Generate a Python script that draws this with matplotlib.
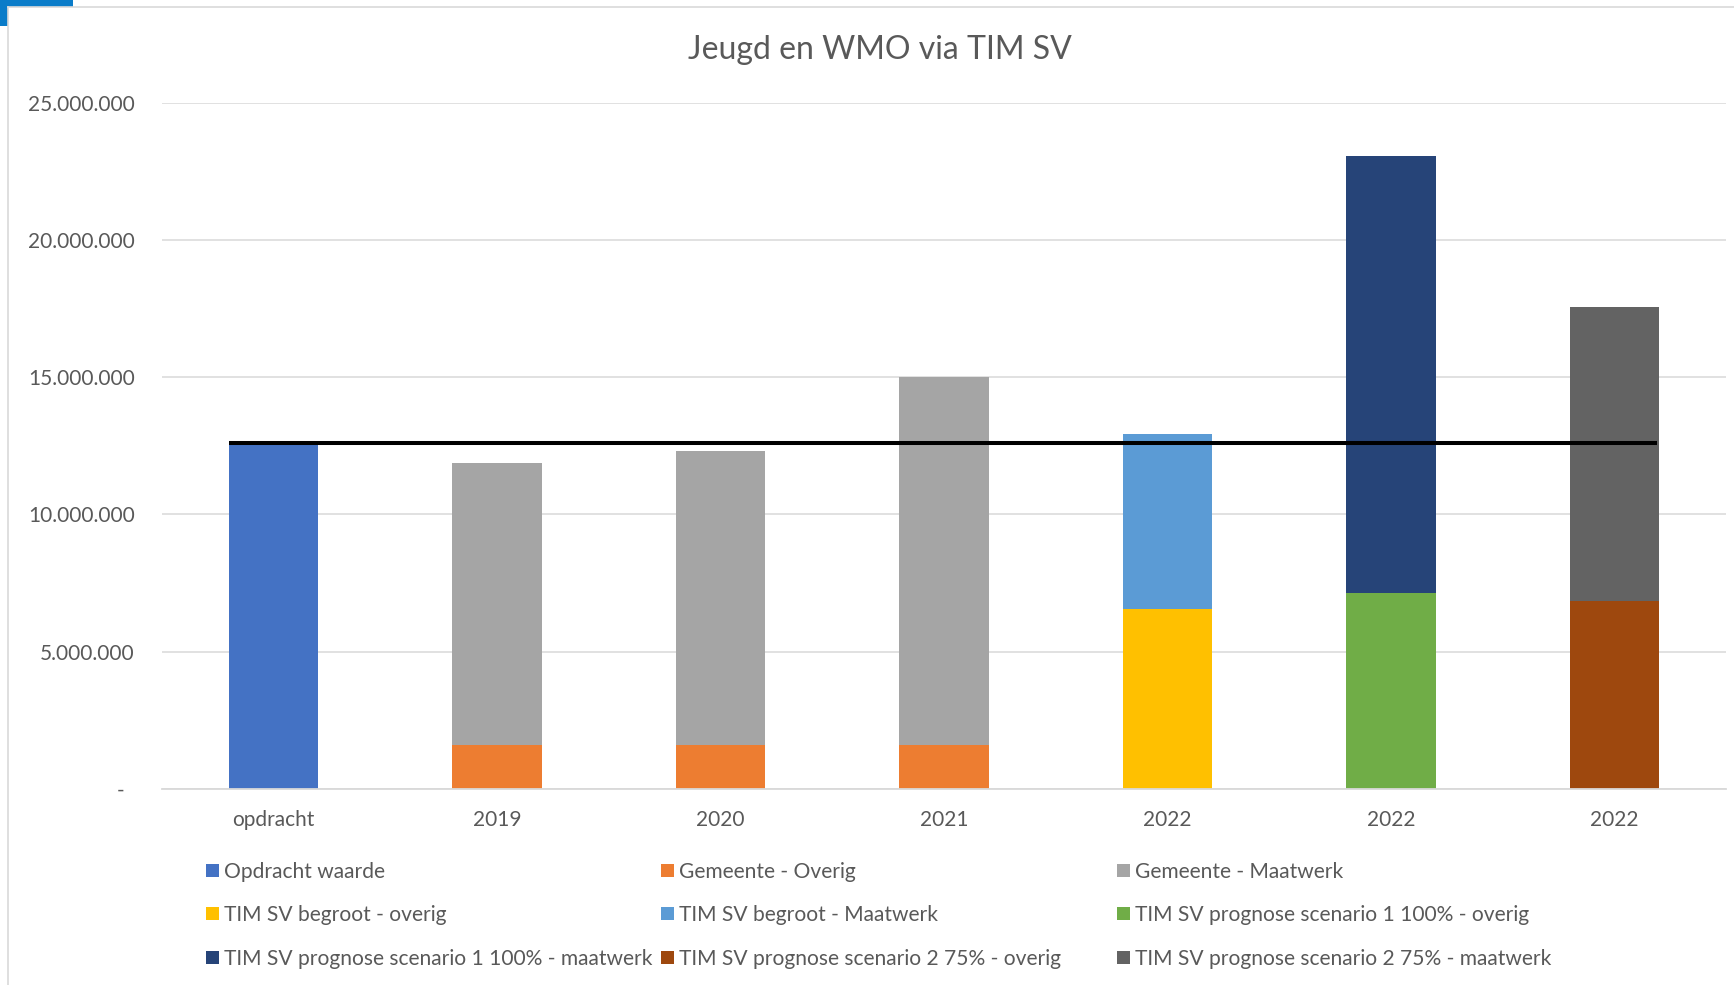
import matplotlib
matplotlib.use("Agg")
import matplotlib.pyplot as plt
from matplotlib.patches import Rectangle
from matplotlib.lines import Line2D
from matplotlib.ticker import FuncFormatter
import numpy as np

categories = ["opdracht", "2019", "2020", "2021", "2022", "2022", "2022"]

opdracht_waarde = [12_600_000, 0, 0, 0, 0, 0, 0]
gemeente_overig = [0, 1_600_000, 1_600_000, 1_600_000, 0, 0, 0]
gemeente_maatwerk = [0, 10_260_000, 10_700_000, 13_400_000, 0, 0, 0]
tim_begroot_overig = [0, 0, 0, 0, 6_550_000, 0, 0]
tim_begroot_maatwerk = [0, 0, 0, 0, 6_380_000, 0, 0]
scen1_overig = [0, 0, 0, 0, 0, 7_130_000, 0]
scen1_maatwerk = [0, 0, 0, 0, 0, 15_930_000, 0]
scen2_overig = [0, 0, 0, 0, 0, 0, 6_830_000]
scen2_maatwerk = [0, 0, 0, 0, 0, 0, 10_710_000]

opdracht_lijn = 12_600_000

series = [
    ("Opdracht waarde", opdracht_waarde, "#4472C4"),
    ("Gemeente - Overig", gemeente_overig, "#ED7D31"),
    ("Gemeente - Maatwerk", gemeente_maatwerk, "#A5A5A5"),
    ("TIM SV begroot - overig", tim_begroot_overig, "#FFC000"),
    ("TIM SV begroot - Maatwerk", tim_begroot_maatwerk, "#5B9BD5"),
    ("TIM SV prognose scenario 1 100% - overig", scen1_overig, "#70AD47"),
    ("TIM SV prognose scenario 1 100% - maatwerk", scen1_maatwerk, "#264478"),
    ("TIM SV prognose scenario 2 75% - overig", scen2_overig, "#9E480E"),
    ("TIM SV prognose scenario 2 75% - maatwerk", scen2_maatwerk, "#636363"),
]

W, H = 1734, 985
TXT = "#595959"
GRID = "#D9D9D9"
plt.rcParams["font.family"] = ["Lato", "DejaVu Sans"]


def fx(px):
    return px / W


def fy(py):
    return 1 - py / H


fig = plt.figure(figsize=(W / 100, H / 100), dpi=100)
ax = fig.add_axes([fx(162), fy(788.7), fx(1726) - fx(162), fy(102.7) - fy(788.7)])

x = np.arange(len(categories))
bottom = np.zeros(len(categories))
for name, vals, color in series:
    vals = np.array(vals, dtype=float)
    ax.bar(x, vals, width=0.4, bottom=bottom, color=color, label=name, zorder=2)
    bottom += vals

ax.plot([-0.2, len(categories) - 0.81], [opdracht_lijn, opdracht_lijn],
        color="black", lw=2.9, zorder=3, solid_capstyle="butt")

ax.set_xlim(-0.5, len(categories) - 0.5)
ax.set_ylim(0, 25_000_000)
ax.set_yticks(np.arange(0, 25_000_001, 5_000_000))
ax.yaxis.set_major_formatter(FuncFormatter(
    lambda v, p: "-  " if v == 0 else f"{v:,.0f}".replace(",", ".")))
ax.set_xticks(x)
ax.set_xticklabels(categories)
ax.tick_params(axis="both", length=0, labelsize=15, labelcolor=TXT)
ax.tick_params(axis="y", pad=19.5)
ax.tick_params(axis="x", pad=15)
ax.grid(axis="y", color=GRID, lw=1.1, zorder=0)
ax.set_axisbelow(True)
for s in ["top", "right", "left"]:
    ax.spines[s].set_visible(False)
ax.spines["bottom"].set_color(GRID)
ax.spines["bottom"].set_linewidth(1.3)

fig.text(fx(880), fy(50), "Jeugd en WMO via TIM SV", ha="center", va="center",
         fontsize=23, color=TXT)

# legend, laid out like Excel: 3 columns, row-major
col_x = [206, 661, 1117]
row_y = [870, 913, 957]
for i, (name, vals, color) in enumerate(series):
    cx = col_x[i % 3]
    cy = row_y[i // 3]
    fig.add_artist(Rectangle((fx(cx), fy(cy + 6.5)), fx(13), 13 / H,
                             transform=fig.transFigure, color=color, lw=0))
    fig.text(fx(cx + 18), fy(cy), name, ha="left", va="center_baseline",
             fontsize=15.1, color=TXT)

# chart frame and selection corner
fig.add_artist(Line2D([fx(8), fx(8)], [fy(7), 0], transform=fig.transFigure,
                      color=GRID, lw=1.2))
fig.add_artist(Line2D([fx(8), 1], [fy(7), fy(7)], transform=fig.transFigure,
                      color=GRID, lw=1.2))
fig.add_artist(Rectangle((0, fy(7)), fx(73), 7 / H, transform=fig.transFigure,
                         color="#0A7CC9", lw=0))
fig.add_artist(Rectangle((0, fy(26)), fx(8), 26 / H, transform=fig.transFigure,
                         color="#0A7CC9", lw=0))

fig.savefig("out.png", dpi=100, facecolor="white")
